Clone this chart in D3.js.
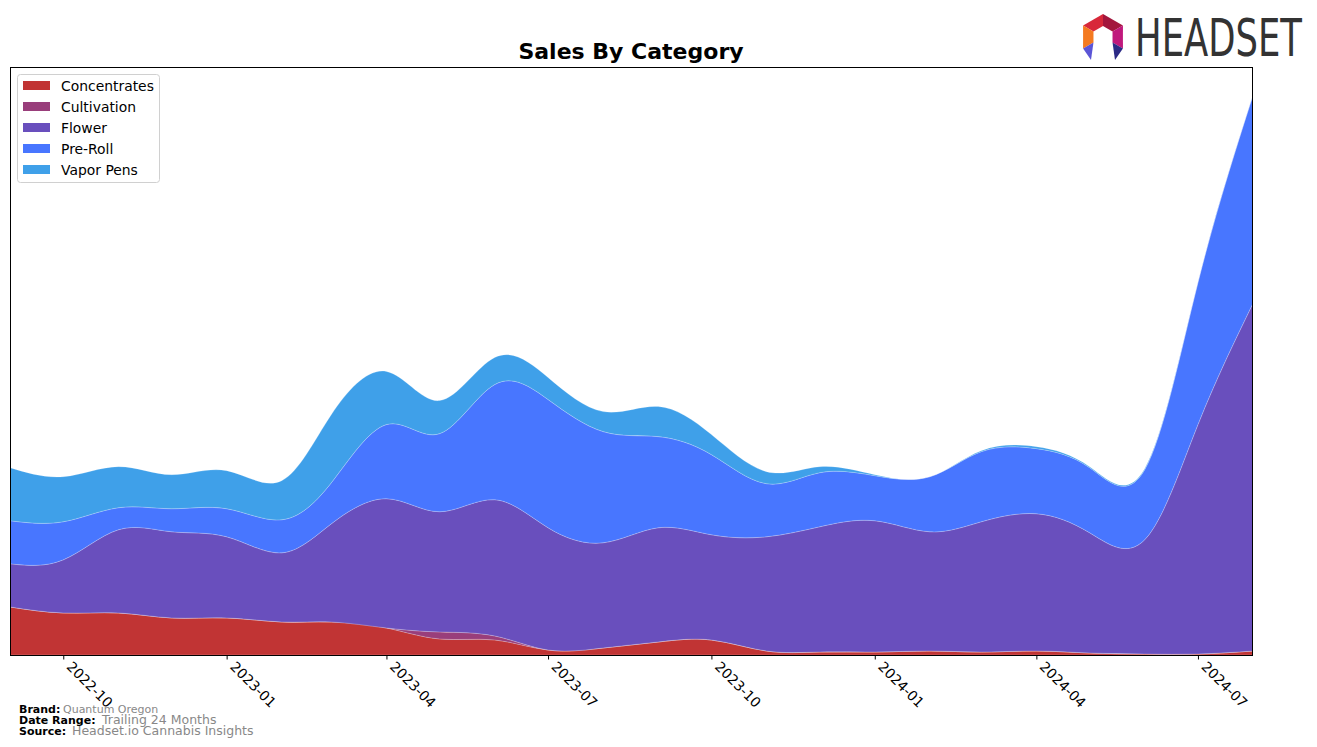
<!DOCTYPE html>
<html>
<head>
<meta charset="utf-8">
<script src="https://cdn.jsdelivr.net/npm/d3@7"></script>
<style>
  html, body { margin: 0; padding: 0; background: #fff; }
  svg { display: block; font-family: "DejaVu Sans", sans-serif; }
</style>
</head>
<body>
<svg id="chart" width="1317" height="747"></svg>
<script>
// ---- data (arbitrary sales units) ----
const months = ["2022-09","2022-10","2022-11","2022-12","2023-01","2023-02","2023-03","2023-04",
  "2023-05","2023-06","2023-07","2023-08","2023-09","2023-10","2023-11","2023-12",
  "2024-01","2024-02","2024-03","2024-04","2024-05","2024-06","2024-07","2024-08"];
const categories = ["Concentrates","Cultivation","Flower","Pre-Roll","Vapor Pens"];
const concentrates = [48,42,42,37,37,33,33,27,16,15,5,7,13,15,4,3,3,4,3,4,2,1,1,4];
const cultivation  = [0,0,0,0,0,0,0,0,7,4,0,0,0,0,0,0,0,0,0,0,0,0,0,0];
const flower       = [43,53,83,86,81,69,98,129,120,136,122,105,114,105,114,125,131,119,130,137,120,114,229,347];
const preRoll      = [43,38,22,23,28,33,41,74,78,115,128,111,91,80,53,54,45,55,70,65,65,70,142,208];
const vaporPens    = [53,45,41,34,38,39,68,53,33,27,22,20,30,20,12,6,1,0,1,2,1,1,0,0];
const tickLabels = ["2022-10","2023-01","2023-04","2023-07","2023-10","2024-01","2024-04","2024-07"];
const colors = ["#c13434","#993e7b","#694fbd","#4876ff","#3fa0e9"];

// ---- build table ----
const parse = d3.timeParse("%Y-%m");
const seriesArrays = [concentrates, cultivation, flower, preRoll, vaporPens];
const table = months.map((m, i) => {
  const row = { date: parse(m) };
  categories.forEach((c, k) => row[c] = seriesArrays[k][i]);
  return row;
});

const svg = d3.select("#chart");
const margin = { left: 10, right: 1253, top: 67, bottom: 655 };

const x = d3.scaleTime()
  .domain(d3.extent(table, d => d.date))
  .range([margin.left, margin.right]);

const stacked = d3.stack().keys(categories)(table);
const maxTotal = d3.max(stacked[stacked.length - 1], d => d[1]);
const y = d3.scaleLinear()
  .domain([0, maxTotal * 1.05])
  .range([margin.bottom, margin.top]);

svg.append("defs").append("clipPath").attr("id", "clip")
  .append("rect")
  .attr("x", margin.left).attr("y", margin.top)
  .attr("width", margin.right - margin.left)
  .attr("height", margin.bottom - margin.top);

const area = d3.area()
  .x(d => x(d.data.date))
  .y0(d => y(d[0]))
  .y1(d => y(d[1]))
  .curve(d3.curveNatural);

svg.append("g").attr("clip-path", "url(#clip)")
  .selectAll("path")
  .data(stacked)
  .join("path")
  .attr("d", area)
  .attr("fill", (d, i) => colors[i])
  .attr("stroke", "rgba(255,255,255,0.35)")
  .attr("stroke-width", 0.6);

// frame
svg.append("rect")
  .attr("x", margin.left + 0.5).attr("y", margin.top + 0.5)
  .attr("width", margin.right - margin.left - 1)
  .attr("height", margin.bottom - margin.top)
  .attr("fill", "none").attr("stroke", "#000").attr("stroke-width", 1);

// x axis
const tickDates = tickLabels.map(parse);
const xAxis = d3.axisBottom(x)
  .tickValues(tickDates)
  .tickFormat((d, i) => tickLabels[i])
  .tickSize(4)
  .tickSizeOuter(0);
const gx = svg.append("g")
  .attr("transform", `translate(0,${margin.bottom + 0.5})`)
  .call(xAxis);
gx.select(".domain").remove();
gx.selectAll(".tick line").attr("stroke", "#000");
gx.selectAll(".tick text")
  .attr("fill", "#000")
  .style("font-size", "13.9px")
  .style("font-family", "DejaVu Sans")
  .attr("text-anchor", "start")
  .attr("dy", null)
  .attr("y", null)
  .attr("transform", "translate(2,12) rotate(45)");

// title
svg.append("text")
  .attr("x", 631).attr("y", 59)
  .attr("text-anchor", "middle")
  .style("font-size", "22px").style("font-weight", "bold")
  .text("Sales By Category");

// legend
const lg = svg.append("g");
lg.append("rect")
  .attr("x", 17.5).attr("y", 74.5).attr("width", 142).attr("height", 108)
  .attr("rx", 3).attr("fill", "#fff").attr("stroke", "#d0d0d0");
categories.forEach((c, i) => {
  const cy = 86 + i * 21;
  lg.append("rect").attr("x", 23).attr("y", cy - 5).attr("width", 27).attr("height", 9)
    .attr("fill", colors[i]);
  lg.append("text").attr("x", 61).attr("y", cy + 5)
    .style("font-size", "13.9px").attr("fill", "#000").text(c);
});

// footer
const foot = [
  { label: "Brand:", value: "Quantum Oregon", y: 713, vx: 63, vs: 11 },
  { label: "Date Range:", value: "Trailing 24 Months", y: 724, vx: 102, vs: 12.5 },
  { label: "Source:", value: "Headset.io Cannabis Insights", y: 735, vx: 72, vs: 12.5 }
];
foot.forEach(f => {
  svg.append("text").attr("x", 19).attr("y", f.y)
    .style("font-size", "11px").style("font-weight", "bold").attr("fill", "#000").text(f.label);
  svg.append("text").attr("x", f.vx).attr("y", f.y)
    .style("font-size", f.vs + "px").attr("fill", "#888").text(f.value);
});

// logo
const logo = svg.append("g");
const cx = 1103, cyL = 37, R = 23, r = 11;
const pt = (a, rad) => [cx + rad * Math.cos(a * Math.PI / 180), cyL + rad * Math.sin(a * Math.PI / 180)];
const poly = (pts, col) => logo.append("polygon")
  .attr("points", pts.map(q => q.join(",")).join(" ")).attr("fill", col);
const seg = (a0, a1, col) => poly([pt(a0, R), pt(a1, R), pt(a1, r), pt(a0, r)], col);
seg(-150, -90, "#d8283a");
seg(-90, -30, "#a3163d");
seg(-30, 30, "#c0187c");
seg(150, 210, "#f47a20");
poly([pt(150, R), pt(150, r), [1091, 60]], "#5b55d6");
poly([pt(30, R), pt(30, r), [1115, 60]], "#2c2a86");
logo.append("text").attr("x", 1135).attr("y", 56)
  .attr("textLength", 167).attr("lengthAdjust", "spacingAndGlyphs")
  .style("font-family", "'Liberation Sans Narrow', 'DejaVu Sans Condensed', sans-serif")
  .style("font-size", "51px").attr("fill", "#333").text("HEADSET");
</script>
</body>
</html>
